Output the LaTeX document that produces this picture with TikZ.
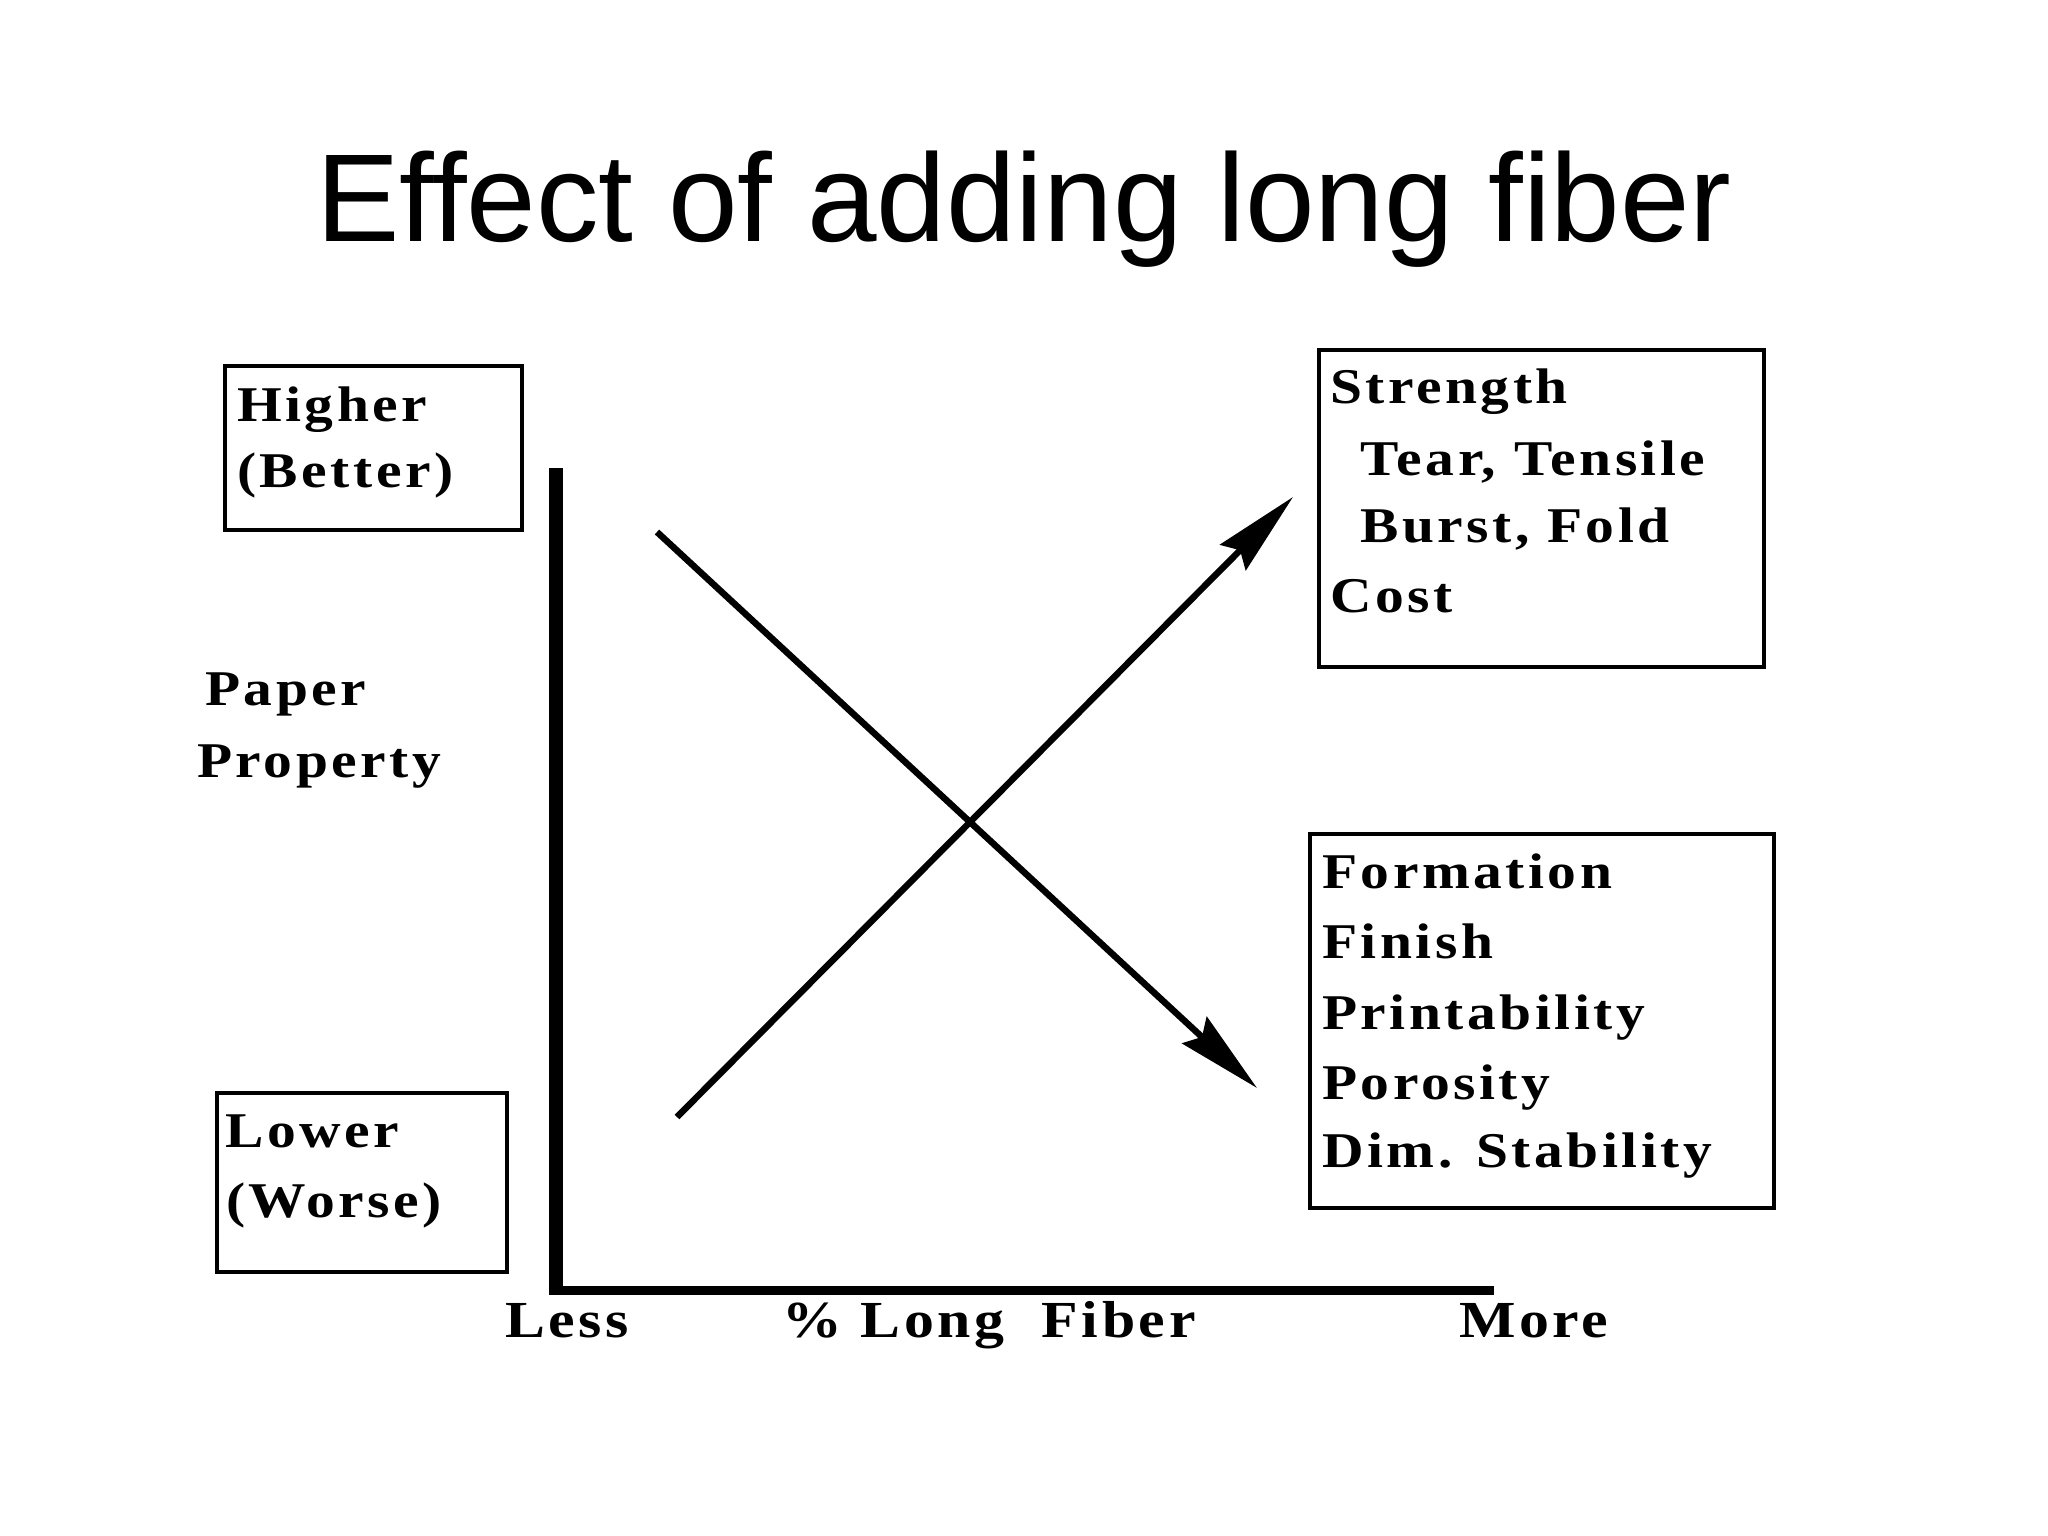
\documentclass[tikz,border=0pt]{standalone}
\usepackage{fontspec}
\setmainfont{Liberation Serif}
\newfontfamily\titlefont{Liberation Sans}
\newfontfamily\lblfont{Liberation Serif}[FakeStretch=1.15, LetterSpace=7]
\usetikzlibrary{arrows.meta}
\begin{document}
\begin{tikzpicture}[x=1pt,y=-1pt,
  lbl/.style={anchor=base west, inner sep=0pt, font=\lblfont\bfseries\fontsize{50}{60}\selectfont},
  axlbl/.style={lbl, font=\lblfont\bfseries\fontsize{52}{60}\selectfont},
  box/.style={draw, line width=3.5pt, anchor=north west, inner sep=0pt, outer sep=0pt},
  arr/.style={line width=6.5pt, -{Stealth[length=85pt,width=36pt,inset=10pt]}},
  axisv/.style={line width=14pt},
  axish/.style={line width=9pt}]
\useasboundingbox[fill=white] (0,0) rectangle (2048,1536);
% title
\node[anchor=base, inner sep=0pt, font=\titlefont\fontsize{125}{150}\selectfont] (title) at (1024,241) {Effect of adding long fiber};
% boxes
\node[box, minimum width=297pt, minimum height=164pt] (hbox) at (225,366) {};
\node[box, minimum width=290pt, minimum height=179pt] (lbox) at (217,1093) {};
\node[box, minimum width=445pt, minimum height=317pt] (sbox) at (1319,350) {};
\node[box, minimum width=464pt, minimum height=374pt] (fbox) at (1310,834) {};
% box texts
\node[lbl] (t1) at (237,421) {Higher};
\node[lbl] (t2) at (237,487) {(Better)};
\node[lbl] (t3) at (225,1147) {Lower};
\node[lbl] (t4) at (226,1217) {(Worse)};
\node[lbl] (t5) at (1330,403) {Strength};
\node[lbl] (t6) at (1360,475) {Tear, Tensile};
\node[lbl] (t7) at (1360,542) {Burst, Fold};
\node[lbl] (t8) at (1330,612) {Cost};
\node[lbl] (t9) at (1322,888) {Formation};
\node[lbl] (t10) at (1322,958) {Finish};
\node[lbl] (t11) at (1322,1029) {Printability};
\node[lbl] (t12) at (1322,1099) {Porosity};
\node[lbl] (t13) at (1322,1167) {Dim. Stability};
\node[lbl] (t14) at (205,705) {Paper};
\node[lbl] (t15) at (197,777) {Property};
% axis labels
\node[axlbl] (less) at (505,1337) {Less};
\node[axlbl] (fib) at (782,1337) {\% Long~~Fiber};
\node[axlbl] (more) at (1459,1337) {More};
% axes
\coordinate (ytop) at (556,468);
\coordinate (orig) at (556,1294);
\coordinate (horig) at (549,1290);
\coordinate (xend) at (1494,1290);
\draw[axisv] (ytop) -- (orig);
\draw[axish] (horig) -- (xend);
% arrows
\coordinate (u0) at (677,1117);
\coordinate (u1) at (1293,497);
\coordinate (d0) at (657,532);
\coordinate (d1) at (1257,1088);
\draw[arr] (u0) -- (u1);
\draw[arr] (d0) -- (d1);
\end{tikzpicture}
\end{document}
